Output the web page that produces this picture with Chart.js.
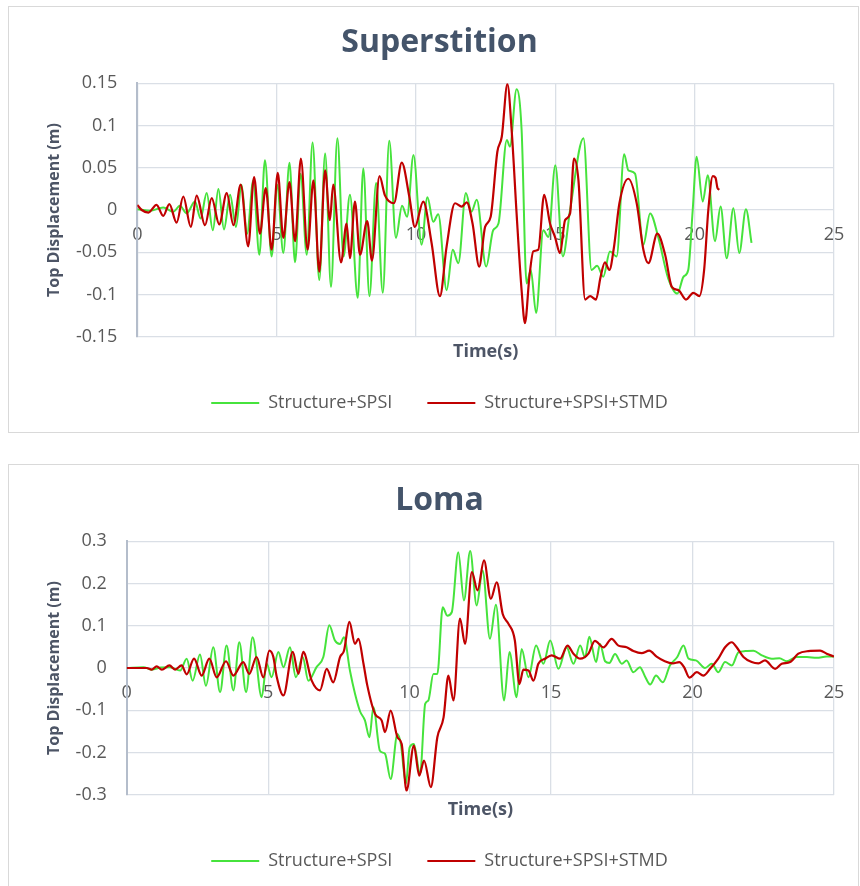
<!DOCTYPE html>
<html>
<head>
<meta charset="utf-8">
<script src="https://cdn.jsdelivr.net/npm/chart.js@4.4.1/dist/chart.umd.min.js"></script>
<style>
  body { margin: 0; background: #fff; width: 860px; height: 886px; overflow: hidden; position: relative; }
  .caja { position: absolute; left: 8px; width: 849px; height: 425px; border: 1px solid #d9d9d9; }
  .caja canvas { position: absolute; left: 0; top: 0; }
</style>
</head>
<body>
<div class="caja" style="top:6px"><canvas id="graficoSuperstition" width="849" height="425"></canvas></div>
<div class="caja" style="top:464px"><canvas id="graficoLoma" width="849" height="425"></canvas></div>
<script>
const serieA = 'Structure+SPSI';
const serieB = 'Structure+SPSI+STMD';

// Superstition - Structure+SPSI (time s, displacement m)
const supTiempoA = [0, 0.46, 0.93, 1.29, 1.53, 1.77, 2.07, 2.27, 2.49, 2.71, 2.91, 3.11, 3.33, 3.54, 3.74, 3.94,
  4.16, 4.38, 4.58, 4.82, 5.02, 5.24, 5.46, 5.66, 5.86, 6.08, 6.29, 6.53, 6.74, 6.95, 7.18, 7.40, 7.63, 7.91,
  8.11, 8.33, 8.57, 8.81, 9.04, 9.28, 9.50, 9.68, 9.91, 10.2, 10.41, 10.62, 10.8, 11.1, 11.32, 11.52, 11.79,
  11.99, 12.18, 12.52, 12.77, 12.96, 13.26, 13.37, 13.61, 13.79, 13.97, 14.12, 14.31, 14.57, 14.75, 15.0,
  15.27, 15.53, 16.01, 16.3, 16.5, 16.72, 16.96, 17.2, 17.47, 17.62, 17.86, 18.16, 18.4, 18.7, 19.05, 19.38,
  19.6, 19.77, 19.93, 20.07, 20.29, 20.47, 20.73, 20.93, 21.15, 21.39, 21.6, 21.84, 22.04];
const supDespA = [0.001, -0.001, 0.003, -0.002, 0.005, -0.004, 0.010, -0.010, 0.020, -0.024, 0.025, -0.023, 0.018, -0.020, 0.030, -0.028,
  0.035, -0.053, 0.059, -0.055, 0.030, -0.051, 0.056, -0.062, 0.043, -0.053, 0.080, -0.083, 0.067, -0.091, 0.085, -0.055, 0.018, -0.104,
  0.049, -0.102, 0.032, -0.098, 0.082, -0.033, 0.005, -0.008, 0.065, -0.041, 0.015, -0.014, -0.005, -0.095, -0.047, -0.063, 0.020,
  -0.002, 0.012, -0.067, -0.024, -0.016, 0.083, 0.075, 0.143, 0.095, -0.087, -0.071, -0.122, -0.024, -0.032, 0.053,
  -0.055, 0.0, 0.085, -0.071, -0.066, -0.079, -0.049, -0.055, 0.066, 0.047, 0.043, -0.041, -0.004, -0.033, -0.081, -0.099,
  -0.079, -0.071, 0.0, 0.063, 0.010, 0.041, -0.037, 0.004, -0.057, 0.002, -0.051, 0.001, -0.039];

// Superstition - Structure+SPSI+STMD
const supTiempoB = [0, 0.16, 0.4, 0.69, 0.93, 1.15, 1.41, 1.65, 1.92, 2.13, 2.43, 2.67, 2.94, 3.21, 3.45, 3.71,
  3.98, 4.19, 4.40, 4.61, 4.82, 5.04, 5.24, 5.46, 5.66, 5.87, 6.11, 6.32, 6.53, 6.74, 6.91, 7.03, 7.31, 7.51,
  7.63, 7.81, 7.99, 8.25, 8.42, 8.69, 8.89, 9.21, 9.49, 9.76, 9.96, 10.26, 10.56, 10.86, 11.10, 11.4, 11.64,
  11.82, 12.03, 12.27, 12.48, 12.68, 12.92, 13.08, 13.28, 13.44, 13.61, 13.79, 13.91, 14.07, 14.21, 14.39,
  14.6, 14.81, 14.99, 15.17, 15.35, 15.53, 15.67, 15.83, 16.07, 16.25, 16.46, 16.62, 16.78, 16.94, 17.1, 17.3,
  17.62, 17.92, 18.16, 18.34, 18.66, 18.94, 19.18, 19.42, 19.69, 19.95, 20.17, 20.34, 20.49, 20.65, 20.75,
  20.82, 20.89];
const supDespB = [0.006, 0.0, -0.003, 0.006, -0.007, 0.007, -0.015, 0.016, -0.020, 0.017, -0.018, 0.014, -0.017, 0.020, -0.018, 0.030,
  -0.043, 0.039, -0.028, 0.026, -0.047, 0.044, -0.033, 0.033, -0.037, 0.061, -0.047, 0.035, -0.073, 0.047, -0.012, 0.030, -0.062, -0.016,
  -0.057, 0.010, -0.053, -0.013, -0.060, 0.040, 0.017, 0.008, 0.056, 0.016, -0.020, 0.010, -0.039, -0.102, -0.043, 0.008, 0.004,
  0.009, -0.016, -0.067, -0.020, -0.008, 0.069, 0.087, 0.149, 0.091, -0.004, -0.095, -0.134, -0.079, -0.049, -0.047,
  0.018, -0.016, -0.032, -0.051, -0.012, -0.004, 0.061, 0.035, -0.106, -0.102, -0.106, -0.080, -0.062, -0.071, -0.045, 0.008,
  0.037, 0.008, -0.047, -0.063, -0.028, -0.053, -0.091, -0.095, -0.106, -0.098, -0.102, -0.071, 0.0, 0.040, 0.038,
  0.026, 0.024];

// Loma - Structure+SPSI
const lomaTiempoA = [0, 0.59, 0.88, 1.2, 1.53, 1.89, 2.12, 2.33, 2.59, 2.80, 3.06, 3.30, 3.53, 3.77, 3.98, 4.22,
  4.45, 4.77, 4.95, 5.12, 5.36, 5.54, 5.77, 5.98, 6.22, 6.42, 6.71, 6.95, 7.16, 7.36, 7.54, 7.68, 7.89, 8.07,
  8.25, 8.42, 8.58, 8.72, 8.95, 9.13, 9.33, 9.57, 9.69, 9.87, 10.0, 10.15, 10.37, 10.55, 10.66, 10.84, 10.98,
  11.17, 11.33, 11.49, 11.72, 11.92, 12.14, 12.37, 12.58, 12.84, 13.05, 13.34, 13.53, 13.78, 13.96, 14.2,
  14.47, 14.73, 14.97, 15.26, 15.55, 15.79, 16.03, 16.2, 16.35, 16.59, 16.73, 16.91, 17.06, 17.26, 17.5, 17.67,
  17.91, 18.14, 18.32, 18.5, 18.71, 18.95, 19.2, 19.46, 19.68, 19.86, 20.12, 20.44, 20.68, 20.91, 21.15, 21.39,
  21.62, 21.86, 22.15, 22.45, 22.8, 23.07, 23.33, 23.68, 24.04, 24.39, 24.74, 25.0];
const lomaDespA = [0, 0.002, -0.004, 0.001, 0.002, -0.006, 0.022, -0.030, 0.032, -0.042, 0.049, -0.057, 0.053, -0.053, 0.061, -0.057,
  0.073, -0.069, 0.010, -0.022, 0.038, 0.002, 0.049, -0.022, 0.026, -0.030, 0.002, 0.026, 0.101, 0.065, 0.057, 0.073, -0.006, -0.061,
  -0.103, -0.124, -0.164, -0.093, -0.196, -0.203, -0.263, -0.156, -0.180, -0.274, -0.188, -0.180, -0.251, -0.085, -0.077, -0.014, -0.014,
  0.144, 0.124, 0.132, 0.274, 0.160, 0.277, 0.148, 0.231, 0.069, 0.150, -0.077, 0.038, -0.069, 0.045, -0.022,
  0.053, 0.010, 0.065, -0.002, 0.049, 0.010, 0.053, 0.025, 0.074, 0.014, 0.057, 0.016, 0.012, 0.033, 0.010, 0.018,
  -0.010, 0.002, -0.020, -0.039, -0.018, -0.034, 0.006, 0.026, 0.053, 0.022, 0.018, 0.0, 0.010, -0.010, 0.014, 0.006,
  0.037, 0.040, 0.041, 0.030, 0.022, 0.023, 0.016, 0.026, 0.026, 0.024, 0.027, 0.027];

// Loma - Structure+SPSI+STMD
const lomaTiempoB = [0, 0.71, 0.88, 1.06, 1.24, 1.51, 1.71, 1.94, 2.12, 2.38, 2.65, 2.92, 3.18, 3.51, 3.77, 4.12,
  4.33, 4.59, 4.83, 5.04, 5.18, 5.3, 5.54, 5.87, 6.07, 6.24, 6.54, 6.83, 7.07, 7.30, 7.54, 7.68, 7.87, 8.07,
  8.19, 8.37, 8.5, 8.78, 9.01, 9.13, 9.33, 9.57, 9.72, 9.89, 10.15, 10.34, 10.51, 10.75, 10.98, 11.2, 11.37,
  11.55, 11.78, 11.96, 12.2, 12.4, 12.63, 12.87, 13.08, 13.29, 13.49, 13.72, 13.88, 14.02, 14.2, 14.38, 14.55,
  14.79, 15.02, 15.32, 15.58, 15.79, 16.03, 16.32, 16.55, 16.85, 17.14, 17.38, 17.67, 17.91, 18.2, 18.47, 18.73,
  19.02, 19.3, 19.53, 19.7, 19.89, 20.15, 20.38, 20.62, 20.91, 21.15, 21.39, 21.56, 21.8, 22.09, 22.33, 22.56,
  22.92, 23.15, 23.45, 23.74, 24.09, 24.51, 24.74, 25.0];
const lomaDespB = [0, 0, -0.004, 0.004, -0.004, 0.006, -0.004, 0.006, -0.015, 0.022, -0.018, 0.022, -0.022, 0.016, -0.018, 0.014,
  -0.014, 0.026, -0.022, 0.041, 0.027, -0.020, -0.065, 0.038, -0.014, 0.038, -0.030, -0.053, -0.002, -0.034, 0.026, 0.041, 0.109, 0.057,
  0.069, 0.010, -0.040, -0.109, -0.124, -0.152, -0.101, -0.164, -0.180, -0.290, -0.184, -0.255, -0.219, -0.282, -0.164, -0.117, -0.018,
  -0.077, 0.117, 0.057, 0.227, 0.184, 0.255, 0.164, 0.203, 0.128, 0.105, 0.065, -0.038, -0.004, -0.006, -0.030, 0.010,
  0.022, 0.030, 0.022, 0.053, 0.034, 0.022, 0.034, 0.064, 0.049, 0.069, 0.053, 0.049, 0.040, 0.035, 0.041, 0.027,
  0.016, 0.011, 0.014, 0.002, -0.023, -0.010, -0.018, -0.002, 0.022, 0.049, 0.061, 0.049, 0.026, 0.014, 0.011, 0.018,
  -0.002, 0.010, 0.014, 0.034, 0.040, 0.041, 0.034, 0.027];

const fuente = "'Open Sans', sans-serif";
const colorVerde = '#46e33c';
const colorRojo = '#c00000';
const colorRejilla = '#dadfe6';
const colorTexto = '#595959';

function puntos(tiempos, valores) {
  return tiempos.map((t, i) => ({ x: t, y: valores[i] }));
}

function crearGrafico(idCanvas, titulo, tA, dA, tB, dB, yMin, yMax, yPaso, anchoEjeY) {
  const ctx = document.getElementById(idCanvas).getContext('2d');
  return new Chart(ctx, {
    type: 'line',
    data: {
      datasets: [
        { label: serieA, data: puntos(tA, dA), borderColor: colorVerde, backgroundColor: colorVerde,
          borderWidth: 2, pointRadius: 0, cubicInterpolationMode: 'monotone', order: 2 },
        { label: serieB, data: puntos(tB, dB), borderColor: colorRojo, backgroundColor: colorRojo,
          borderWidth: 2.2, pointRadius: 0, cubicInterpolationMode: 'monotone', order: 1 }
      ]
    },
    options: {
      responsive: false,
      animation: false,
      layout: { padding: { left: 36, right: 24, top: 0, bottom: 10 } },
      plugins: {
        title: {
          display: true, text: titulo, color: '#44546A',
          font: { family: fuente, size: 32, weight: 'bold', lineHeight: 1.2 },
          padding: { top: 16.8, bottom: 21.1 }
        },
        legend: {
          position: 'bottom',
          labels: {
            usePointStyle: true, pointStyle: 'line', pointStyleWidth: 48, padding: 35,
            color: colorTexto, font: { family: fuente, size: 18 },
            sort: (a, b) => a.datasetIndex - b.datasetIndex
          }
        },
        tooltip: { enabled: false }
      },
      scales: {
        x: {
          type: 'linear', position: 'bottom', min: 0, max: 25,
          ticks: { display: false, stepSize: 5 },
          grid: { color: colorRejilla, lineWidth: 1.3, drawTicks: false },
          border: { display: false },
          title: {
            display: true, text: 'Time(s)', color: '#4d5566',
            font: { family: fuente, size: 18, weight: 'bold' }, padding: { top: 0, bottom: -3.8 }
          },
          afterFit: (eje) => { eje.height = 22.3; }
        },
        x2: {
          type: 'linear', axis: 'x', position: { y: 0 }, min: 0, max: 25,
          ticks: { stepSize: 5, padding: 14, color: colorTexto, font: { family: fuente, size: 18 }, maxRotation: 0 },
          grid: { display: false, drawTicks: false },
          border: { display: false },
          afterFit: (eje) => { eje.paddingLeft = 0; eje.paddingRight = 0; }
        },
        y: {
          min: yMin, max: yMax,
          ticks: {
            stepSize: yPaso, padding: 20, color: colorTexto, font: { family: fuente, size: 18 },
            callback: (v) => String(Math.round(v * 1000) / 1000)
          },
          grid: { color: colorRejilla, lineWidth: 1.3, drawTicks: false },
          border: { color: '#b4bdcb', width: 2 },
          title: {
            display: true, text: 'Top Displacement (m)', color: '#4d5566',
            font: { family: fuente, size: 16, weight: 'bold' }, padding: { top: 0, bottom: 0 }
          },
          afterFit: (eje) => { eje.width = anchoEjeY; }
        }
      }
    }
  });
}

crearGrafico('graficoSuperstition', 'Superstition', supTiempoA, supDespA, supTiempoB, supDespB, -0.15, 0.15, 0.05, 92.3);
crearGrafico('graficoLoma', 'Loma', lomaTiempoA, lomaDespA, lomaTiempoB, lomaDespB, -0.3, 0.3, 0.1, 81.7);
</script>
</body>
</html>
